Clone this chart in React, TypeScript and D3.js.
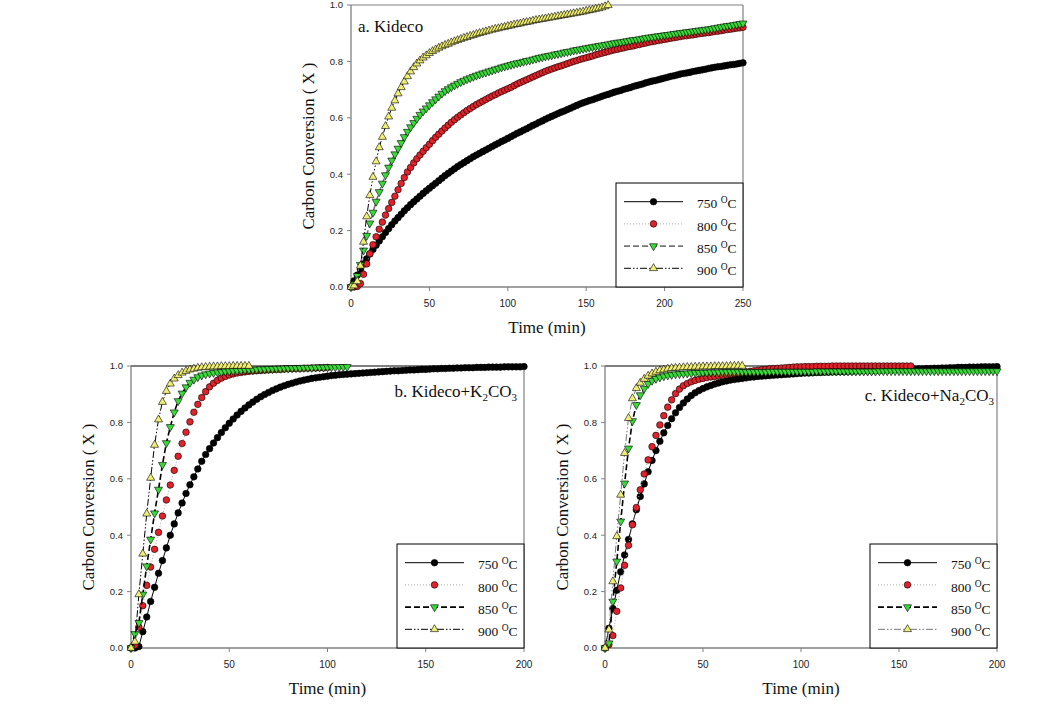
import React from 'react';
import * as d3 from 'd3';

// sampling interval of every series (min)
const STEP = 2;

// a. Kideco
const A_750 = [
  0, 0.022, 0.042, 0.062, 0.082, 0.1, 0.117, 0.133, 0.148, 0.163,
  0.178, 0.193, 0.207, 0.221, 0.234, 0.246, 0.258, 0.27, 0.281, 0.292,
  0.302, 0.312, 0.322, 0.332, 0.341, 0.35, 0.359, 0.368, 0.377, 0.386,
  0.395, 0.403, 0.411, 0.419, 0.427, 0.434, 0.441, 0.448, 0.455, 0.462,
  0.468, 0.474, 0.48, 0.486, 0.492, 0.498, 0.504, 0.51, 0.516, 0.521,
  0.527, 0.533, 0.539, 0.545, 0.55, 0.556, 0.561, 0.567, 0.573, 0.578,
  0.584, 0.589, 0.595, 0.6, 0.605, 0.61, 0.615, 0.62, 0.624, 0.629,
  0.634, 0.639, 0.644, 0.649, 0.653, 0.657, 0.661, 0.664, 0.668, 0.672,
  0.676, 0.68, 0.683, 0.687, 0.691, 0.694, 0.697, 0.701, 0.704, 0.707,
  0.711, 0.714, 0.717, 0.72, 0.724, 0.727, 0.73, 0.732, 0.735, 0.738,
  0.741, 0.744, 0.747, 0.749, 0.752, 0.755, 0.757, 0.759, 0.761, 0.764,
  0.766, 0.768, 0.77, 0.772, 0.775, 0.777, 0.779, 0.781, 0.782, 0.784,
  0.786, 0.788, 0.789, 0.791, 0.793, 0.795,
];
const A_800 = [
  0, 0, 0.002, 0.012, 0.045, 0.082, 0.118, 0.15, 0.178, 0.205,
  0.23, 0.255, 0.278, 0.3, 0.322, 0.345, 0.367, 0.388, 0.408, 0.424,
  0.44, 0.455, 0.468, 0.481, 0.494, 0.506, 0.519, 0.531, 0.542, 0.553,
  0.564, 0.574, 0.584, 0.593, 0.602, 0.61, 0.618, 0.626, 0.633, 0.64,
  0.647, 0.653, 0.659, 0.665, 0.671, 0.677, 0.682, 0.688, 0.693, 0.698,
  0.703, 0.708, 0.714, 0.72, 0.725, 0.73, 0.735, 0.74, 0.745, 0.75,
  0.755, 0.76, 0.765, 0.769, 0.773, 0.777, 0.781, 0.784, 0.788, 0.792,
  0.796, 0.8, 0.803, 0.807, 0.81, 0.813, 0.816, 0.819, 0.823, 0.826,
  0.829, 0.832, 0.835, 0.838, 0.841, 0.843, 0.846, 0.848, 0.851, 0.853,
  0.855, 0.858, 0.86, 0.863, 0.865, 0.868, 0.87, 0.872, 0.874, 0.876,
  0.878, 0.88, 0.882, 0.884, 0.886, 0.888, 0.89, 0.891, 0.893, 0.894,
  0.896, 0.898, 0.899, 0.901, 0.902, 0.904, 0.906, 0.907, 0.909, 0.911,
  0.913, 0.914, 0.916, 0.918, 0.919, 0.921,
];
const A_850 = [
  0, 0.01, 0.04, 0.079, 0.13, 0.182, 0.226, 0.264, 0.303, 0.337,
  0.367, 0.397, 0.424, 0.449, 0.471, 0.491, 0.511, 0.532, 0.551, 0.567,
  0.582, 0.597, 0.611, 0.623, 0.634, 0.645, 0.656, 0.666, 0.676, 0.686,
  0.695, 0.702, 0.709, 0.715, 0.721, 0.727, 0.732, 0.737, 0.741, 0.746,
  0.75, 0.754, 0.758, 0.761, 0.765, 0.768, 0.772, 0.775, 0.779, 0.782,
  0.785, 0.788, 0.791, 0.794, 0.796, 0.799, 0.802, 0.804, 0.807, 0.81,
  0.813, 0.815, 0.818, 0.82, 0.822, 0.825, 0.827, 0.829, 0.832, 0.834,
  0.836, 0.839, 0.841, 0.843, 0.845, 0.847, 0.849, 0.851, 0.853, 0.855,
  0.857, 0.859, 0.861, 0.863, 0.865, 0.867, 0.868, 0.87, 0.872, 0.874,
  0.876, 0.877, 0.879, 0.881, 0.883, 0.885, 0.886, 0.888, 0.89, 0.891,
  0.893, 0.894, 0.896, 0.898, 0.899, 0.901, 0.902, 0.904, 0.905, 0.907,
  0.908, 0.91, 0.911, 0.913, 0.914, 0.916, 0.918, 0.92, 0.922, 0.924,
  0.926, 0.927, 0.929, 0.931, 0.933, 0.935,
];
const A_900 = [
  0, 0.005, 0.02, 0.075, 0.16, 0.25, 0.325, 0.39, 0.445, 0.495,
  0.532, 0.57, 0.604, 0.635, 0.661, 0.686, 0.708, 0.728, 0.747, 0.764,
  0.779, 0.792, 0.803, 0.813, 0.821, 0.829, 0.836, 0.842, 0.848, 0.853,
  0.858, 0.862, 0.867, 0.871, 0.875, 0.879, 0.883, 0.886, 0.89, 0.893,
  0.897, 0.9, 0.903, 0.906, 0.909, 0.912, 0.915, 0.917, 0.92, 0.922,
  0.925, 0.927, 0.93, 0.932, 0.934, 0.937, 0.939, 0.941, 0.944, 0.946,
  0.948, 0.95, 0.952, 0.954, 0.956, 0.958, 0.96, 0.962, 0.964, 0.966,
  0.968, 0.97, 0.972, 0.974, 0.976, 0.979, 0.981, 0.983, 0.986, 0.988,
  0.991, 0.995, 0.999,
];

// b. Kideco+K2CO3
const B_750 = [
  0, 0, 0.005, 0.058, 0.11, 0.165, 0.215, 0.265, 0.31, 0.355,
  0.4, 0.44, 0.479, 0.514, 0.548, 0.579, 0.607, 0.635, 0.662, 0.686,
  0.707, 0.727, 0.746, 0.764, 0.781, 0.797, 0.812, 0.826, 0.839, 0.851,
  0.862, 0.872, 0.882, 0.891, 0.899, 0.906, 0.913, 0.919, 0.925, 0.93,
  0.935, 0.939, 0.943, 0.947, 0.95, 0.953, 0.956, 0.958, 0.96, 0.962,
  0.964, 0.966, 0.967, 0.969, 0.97, 0.971, 0.972, 0.973, 0.974, 0.975,
  0.976, 0.977, 0.978, 0.979, 0.98, 0.981, 0.982, 0.983, 0.983, 0.984,
  0.985, 0.986, 0.986, 0.987, 0.988, 0.988, 0.989, 0.99, 0.99, 0.991,
  0.991, 0.992, 0.992, 0.993, 0.993, 0.994, 0.994, 0.994, 0.995, 0.995,
  0.995, 0.996, 0.996, 0.996, 0.996, 0.997, 0.997, 0.997, 0.997, 0.997,
  0.998,
];
const B_800 = [
  0, 0.01, 0.074, 0.15, 0.222, 0.287, 0.35, 0.41, 0.468, 0.525,
  0.578, 0.63, 0.68, 0.725, 0.765, 0.802, 0.836, 0.864, 0.888, 0.909,
  0.926, 0.939, 0.949, 0.957, 0.963, 0.968, 0.972, 0.975, 0.977, 0.979,
  0.981, 0.982, 0.983, 0.984, 0.985, 0.986, 0.987, 0.988, 0.988, 0.989,
  0.99, 0.99, 0.991, 0.991, 0.992, 0.992, 0.993, 0.993, 0.994, 0.994,
  0.995,
];
const B_850 = [
  0, 0.05, 0.089, 0.19, 0.29, 0.385, 0.478, 0.562, 0.65, 0.727,
  0.784, 0.836, 0.876, 0.903, 0.925, 0.941, 0.952, 0.961, 0.967, 0.971,
  0.974, 0.976, 0.978, 0.979, 0.981, 0.982, 0.983, 0.984, 0.985, 0.986,
  0.987, 0.987, 0.988, 0.989, 0.989, 0.99, 0.99, 0.991, 0.991, 0.992,
  0.992, 0.993, 0.993, 0.993, 0.994, 0.994, 0.994, 0.995, 0.995, 0.995,
  0.996, 0.996, 0.996, 0.997, 0.997, 0.997,
];
const B_900 = [
  0, 0.022, 0.19, 0.334, 0.476, 0.603, 0.72, 0.81, 0.872, 0.911,
  0.937, 0.955, 0.967, 0.976, 0.982, 0.987, 0.99, 0.993, 0.995, 0.996,
  0.997, 0.998, 0.998, 0.999, 0.999, 0.999, 1, 1, 1, 1,
  1,
];

// c. Kideco+Na2CO3
const C_750 = [
  0, 0.07, 0.14, 0.205, 0.27, 0.33, 0.385, 0.44, 0.49, 0.537,
  0.582, 0.625, 0.665, 0.7, 0.733, 0.763, 0.789, 0.813, 0.834, 0.853,
  0.869, 0.883, 0.895, 0.905, 0.913, 0.92, 0.926, 0.931, 0.936, 0.94,
  0.944, 0.947, 0.95, 0.952, 0.954, 0.956, 0.958, 0.96, 0.961, 0.963,
  0.964, 0.965, 0.966, 0.967, 0.968, 0.969, 0.97, 0.971, 0.972, 0.973,
  0.974, 0.975, 0.975, 0.976, 0.977, 0.977, 0.978, 0.978, 0.979, 0.979,
  0.98, 0.98, 0.981, 0.981, 0.982, 0.982, 0.983, 0.983, 0.984, 0.984,
  0.985, 0.985, 0.986, 0.986, 0.987, 0.987, 0.988, 0.988, 0.989, 0.989,
  0.99, 0.99, 0.991, 0.991, 0.992, 0.992, 0.993, 0.993, 0.994, 0.994,
  0.995, 0.995, 0.995, 0.996, 0.996, 0.996, 0.997, 0.997, 0.997, 0.997,
  0.998,
];
const C_800 = [
  0, 0.012, 0.044, 0.13, 0.213, 0.293, 0.364, 0.437, 0.498, 0.561,
  0.617, 0.667, 0.714, 0.754, 0.791, 0.824, 0.854, 0.88, 0.902, 0.918,
  0.93, 0.938, 0.944, 0.949, 0.953, 0.956, 0.959, 0.961, 0.963, 0.965,
  0.967, 0.969, 0.971, 0.973, 0.975, 0.977, 0.979, 0.981, 0.983, 0.985,
  0.987, 0.988, 0.99, 0.991, 0.992, 0.993, 0.994, 0.995, 0.996, 0.997,
  0.997, 0.998, 0.998, 0.998, 0.999, 0.999, 0.999, 0.999, 1, 1,
  1, 1, 1, 1, 1, 1, 1, 1, 1, 1,
  1, 1, 1, 1, 1, 1, 1, 1, 1,
];
const C_850 = [
  0, 0.017, 0.165, 0.307, 0.449, 0.584, 0.708, 0.805, 0.862, 0.897,
  0.92, 0.937, 0.948, 0.955, 0.96, 0.964, 0.967, 0.969, 0.971, 0.972,
  0.973, 0.974, 0.975, 0.976, 0.976, 0.977, 0.977, 0.978, 0.978, 0.978,
  0.979, 0.979, 0.979, 0.979, 0.979, 0.979, 0.979, 0.979, 0.979, 0.979,
  0.979, 0.979, 0.98, 0.98, 0.98, 0.98, 0.98, 0.98, 0.98, 0.98,
  0.98, 0.98, 0.98, 0.98, 0.981, 0.981, 0.981, 0.981, 0.981, 0.981,
  0.981, 0.981, 0.981, 0.981, 0.981, 0.981, 0.981, 0.981, 0.981, 0.981,
  0.982, 0.982, 0.982, 0.982, 0.982, 0.982, 0.982, 0.982, 0.982, 0.982,
  0.982, 0.982, 0.982, 0.982, 0.982, 0.982, 0.982, 0.982, 0.982, 0.982,
  0.982, 0.982, 0.982, 0.982, 0.982, 0.982, 0.982, 0.982, 0.982, 0.982,
  0.982,
];
const C_900 = [
  0, 0.065, 0.236, 0.396, 0.543, 0.691, 0.815, 0.885, 0.921, 0.94,
  0.954, 0.965, 0.973, 0.979, 0.984, 0.987, 0.99, 0.992, 0.993, 0.994,
  0.995, 0.996, 0.996, 0.997, 0.997, 0.998, 0.998, 0.998, 0.999, 0.999,
  0.999, 0.999, 1, 1, 1, 1,
];

const TEMPS = ['750', '800', '850', '900'];
const Y_TICKS = [0, 0.2, 0.4, 0.6, 0.8, 1.0];
const X_TICKS_A = [0, 50, 100, 150, 200, 250];
const X_TICKS_BC = [0, 50, 100, 150, 200];

const RED = '#e1222b';
const GREEN = '#3ad83a';
const YELLOW = '#f0ef74';
const AXIS = '#808080';
const SERIF = '"Liberation Serif", "Times New Roman", serif';
const SANS = '"Liberation Sans", Arial, sans-serif';

type Style = { marker: 'circle' | 'down' | 'up'; fill: string; stroke: string; dash: string; width: number };

const DASH_DOT = '7,2,1.5,2,1.5,2';
const styleSet = (c850: string, c900: string): Style[] => [
  { marker: 'circle', fill: '#000', stroke: '#000', dash: '', width: 1 },
  { marker: 'circle', fill: RED, stroke: '#a8a8a8', dash: '1,2', width: 1 },
  { marker: 'down', fill: GREEN, stroke: c850, dash: '6,3', width: 1.6 },
  { marker: 'up', fill: YELLOW, stroke: c900, dash: DASH_DOT, width: 1 },
];

const triangle = d3.symbol(d3.symbolTriangle, 28)() as string;

function Marker({ kind, x, y, fill }: { kind: Style['marker']; x: number; y: number; fill: string }) {
  if (kind === 'circle') {
    return <circle cx={x} cy={y} r={3.3} fill={fill} stroke="#000" strokeWidth={0.6} />;
  }
  return (
    <path
      d={triangle}
      transform={`translate(${x},${y})${kind === 'down' ? ' rotate(180)' : ''}`}
      fill={fill}
      stroke="#000"
      strokeWidth={0.6}
    />
  );
}

interface PanelProps {
  left: number;
  top: number;
  width: number;
  height: number;
  xMax: number;
  xTicks: number[];
  series: number[][];
  styles: Style[];
  frameTop: string;
  label: React.ReactNode;
  labelX: number;
  labelY: number;
  labelAnchor: 'start' | 'end';
}

function Panel(p: PanelProps) {
  const x = d3.scaleLinear().domain([0, p.xMax]).range([p.left, p.left + p.width]);
  const y = d3.scaleLinear().domain([0, 1]).range([p.top + p.height, p.top]);
  const line = d3
    .line<[number, number]>()
    .x((d) => x(d[0]))
    .y((d) => y(d[1]));
  const x1 = p.left + p.width;
  const y1 = p.top + p.height;
  const lgLeft = x1 - 127;
  const lgTop = y1 - 104;

  return (
    <g>
      {/* ticks */}
      {Y_TICKS.map((t) => (
        <g key={'y' + t}>
          <line x1={p.left - 4} x2={p.left} y1={y(t)} y2={y(t)} stroke={AXIS} strokeWidth={1} />
          <text x={p.left - 8} y={y(t)} dy="0.35em" textAnchor="end" fontFamily={SANS} fontSize={9.5} fill="#222">
            {t.toFixed(1)}
          </text>
        </g>
      ))}
      {p.xTicks.map((t) => (
        <g key={'x' + t}>
          <line x1={x(t)} x2={x(t)} y1={y1} y2={y1 + 4} stroke={AXIS} strokeWidth={1} />
          <text x={x(t)} y={y1 + 19.5} textAnchor="middle" fontFamily={SANS} fontSize={10} fill="#222">
            {t}
          </text>
        </g>
      ))}

      {/* frame */}
      <line x1={p.left} x2={x1} y1={p.top} y2={p.top} stroke={p.frameTop} strokeWidth={1.2} />
      <line x1={x1} x2={x1} y1={p.top} y2={y1} stroke={AXIS} strokeWidth={1.2} />
      <line x1={p.left} x2={p.left} y1={p.top} y2={y1} stroke={AXIS} strokeWidth={1.3} />
      <line x1={p.left} x2={x1} y1={y1} y2={y1} stroke={AXIS} strokeWidth={1.3} />

      {/* data */}
      {p.series.map((vals, si) => {
        const st = p.styles[si];
        const pts = vals.map((v, i) => [i * STEP, v] as [number, number]);
        return (
          <g key={si}>
            <path d={line(pts) as string} fill="none" stroke={st.stroke} strokeWidth={st.width} strokeDasharray={st.dash} />
            {pts.map((d, i) => (
              <Marker key={i} kind={st.marker} x={x(d[0])} y={y(d[1])} fill={st.fill} />
            ))}
          </g>
        );
      })}

      {/* legend */}
      <rect x={lgLeft} y={lgTop} width={127} height={104} fill="#fff" stroke="#000" strokeWidth={1} />
      {TEMPS.map((t, i) => {
        const st = p.styles[i];
        const ry = lgTop + 18.7 + i * 22.2;
        return (
          <g key={t}>
            <line x1={lgLeft + 8} x2={lgLeft + 67} y1={ry} y2={ry} stroke={st.stroke} strokeWidth={st.width} strokeDasharray={st.dash} />
            <Marker kind={st.marker} x={lgLeft + 37.5} y={ry} fill={st.fill} />
            <text x={lgLeft + 81} y={ry + 6.6} fontFamily={SERIF} fontSize={13.5} fill="#111">
              {t + ' '}
              <tspan dy={-5} fontSize={9.5}>O</tspan>
              <tspan dy={5}>C</tspan>
            </text>
          </g>
        );
      })}

      {/* titles */}
      <text x={p.labelX} y={p.labelY} textAnchor={p.labelAnchor} fontFamily={SERIF} fontSize={17} fill="#111">
        {p.label}
      </text>
      <text
        transform={`translate(${p.left - 37},${(p.top + y1) / 2}) rotate(-90)`}
        textAnchor="middle"
        fontFamily={SERIF}
        fontSize={16.8}
        fill="#111"
      >
        Carbon Conversion ( X )
      </text>
      <text x={(p.left + x1) / 2} y={y1 + 46} textAnchor="middle" fontFamily={SERIF} fontSize={17} fill="#111">
        Time (min)
      </text>
    </g>
  );
}

export default function App() {
  return (
    <svg width={1047} height={722} style={{ position: 'absolute', left: 0, top: 0, background: '#fff' }}>
      <rect width={1047} height={722} fill="#fff" />
      <Panel
        left={351}
        top={5}
        width={392}
        height={282}
        xMax={250}
        xTicks={X_TICKS_A}
        series={[A_750, A_800, A_850, A_900]}
        styles={styleSet('#777', '#000')}
        frameTop={AXIS}
        label="a. Kideco"
        labelX={358}
        labelY={32}
        labelAnchor="start"
      />
      <Panel
        left={131}
        top={366}
        width={393}
        height={282}
        xMax={200}
        xTicks={X_TICKS_BC}
        series={[B_750, B_800, B_850, B_900]}
        styles={styleSet('#000', '#000')}
        frameTop="#000"
        label={
          <>
            b. Kideco+K<tspan dy={4} fontSize={11}>2</tspan>
            <tspan dy={-4}>CO</tspan>
            <tspan dy={4} fontSize={11}>3</tspan>
          </>
        }
        labelX={517}
        labelY={397}
        labelAnchor="end"
      />
      <Panel
        left={605}
        top={366}
        width={392}
        height={282}
        xMax={200}
        xTicks={X_TICKS_BC}
        series={[C_750, C_800, C_850, C_900]}
        styles={styleSet('#000', '#777')}
        frameTop="#000"
        label={
          <>
            c. Kideco+Na<tspan dy={4} fontSize={11}>2</tspan>
            <tspan dy={-4}>CO</tspan>
            <tspan dy={4} fontSize={11}>3</tspan>
          </>
        }
        labelX={994}
        labelY={401}
        labelAnchor="end"
      />
    </svg>
  );
}
